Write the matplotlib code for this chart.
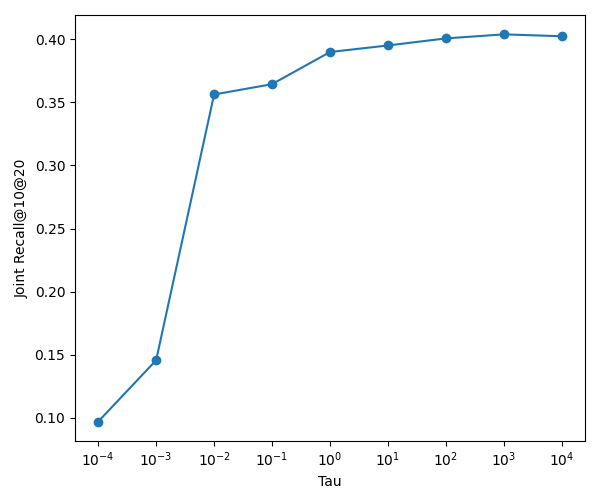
import matplotlib
matplotlib.use("Agg")
import matplotlib.pyplot as plt
from matplotlib.ticker import NullLocator

tau = [1e-4, 1e-3, 1e-2, 1e-1, 1e0, 1e1, 1e2, 1e3, 1e4]
recall = [0.0968, 0.1455, 0.3563, 0.3645, 0.3900, 0.3952, 0.4008, 0.4040, 0.4025]

fig, ax = plt.subplots(figsize=(6, 5), dpi=100)
ax.plot(tau, recall, marker='o')
ax.set_xscale('log')
ax.xaxis.set_minor_locator(NullLocator())
ax.set_xlabel('Tau')
ax.set_ylabel('Joint Recall@10@20')
fig.subplots_adjust(left=0.125, right=0.975, top=0.97, bottom=0.118)
fig.savefig('out.png')
